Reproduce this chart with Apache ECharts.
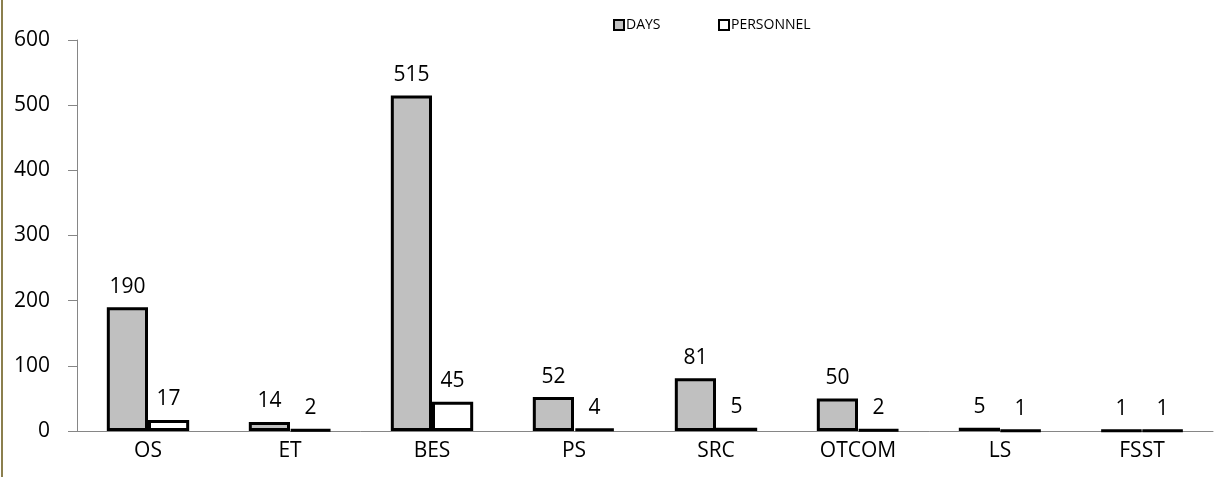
<!DOCTYPE html>
<html>
<head>
<meta charset="utf-8">
<script src="https://cdn.jsdelivr.net/npm/echarts@6/dist/echarts.min.js"></script>
<style>
  html, body { margin: 0; padding: 0; background: #fff; }
  #chart { width: 1216px; height: 477px; }
</style>
</head>
<body>
<div id="chart"></div>
<script>
const categories = ['OS', 'ET', 'BES', 'PS', 'SRC', 'OTCOM', 'LS', 'FSST'];
const days = [190, 14, 515, 52, 81, 50, 5, 1];
const personnel = [17, 2, 45, 4, 5, 2, 1, 1];
const yTicks = [0, 100, 200, 300, 400, 500, 600];

const font = '"Open Sans", Lato, sans-serif';

const chart = echarts.init(document.getElementById('chart'));

function barSeries(name, values, fill) {
  return {
    name: name,
    type: 'bar',
    data: values,
    barGap: '0%',
    barCategoryGap: '42%',
    itemStyle: { color: fill, borderColor: '#000', borderWidth: 3 },
    label: {
      show: true,
      position: 'top',
      distance: 10,
      color: '#000',
      fontFamily: font,
      fontSize: 21
    },
    animation: false
  };
}

function legendAt(name, x) {
  return {
    data: [name],
    top: 18,
    left: x,
    padding: 0,
    itemWidth: 10,
    itemHeight: 10,
    icon: 'rect',
    itemStyle: { borderColor: '#000', borderWidth: 2 },
    textStyle: { fontFamily: font, fontSize: 14, color: '#000', padding: [0, 0, 0, -3] }
  };
}

chart.setOption({
  backgroundColor: '#fff',
  animation: false,
  legend: [legendAt('DAYS', 613), legendAt('PERSONNEL', 718)],
  grid: { left: 77, right: 3, top: 40, bottom: 46, containLabel: false },
  xAxis: {
    type: 'category',
    data: categories,
    axisLine: { lineStyle: { color: '#868686', width: 1 } },
    axisTick: { show: false },
    axisLabel: { color: '#000', fontFamily: font, fontSize: 21, margin: 10 }
  },
  yAxis: {
    type: 'value',
    min: yTicks[0],
    max: yTicks[yTicks.length - 1],
    interval: 100,
    axisLine: { show: true, lineStyle: { color: '#868686', width: 1 } },
    axisTick: { show: true, length: 9, lineStyle: { color: '#868686' } },
    splitLine: { show: false },
    axisLabel: { color: '#000', fontFamily: font, fontSize: 21, margin: 27 }
  },
  graphic: [{
    type: 'rect',
    shape: { x: 1, y: 0, width: 2, height: 477 },
    style: { fill: '#8b7f4e' },
    silent: true
  }],
  series: [
    barSeries('DAYS', days, '#c0c0c0'),
    barSeries('PERSONNEL', personnel, '#ffffff')
  ]
});
</script>
</body>
</html>
